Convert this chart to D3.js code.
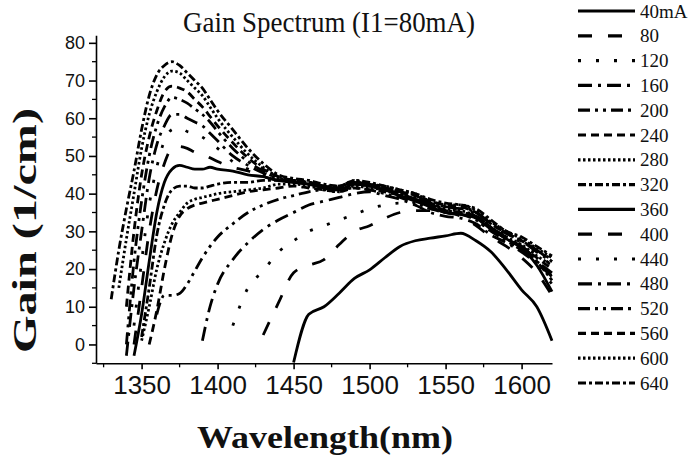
<!DOCTYPE html>
<html>
<head>
<meta charset="utf-8">
<script src="https://cdn.jsdelivr.net/npm/d3@7"></script>
<style>
  body { margin: 0; background: #fff; }
  #wrapper { width: 692px; height: 460px; }
</style>
</head>
<body>
<div id="wrapper"></div>
<script>
const N = null

// wavelength grid (nm)
const wavelengths = [1330, 1335, 1340, 1345, 1350, 1355, 1360, 1365, 1370, 1375, 1380, 1385, 1390, 1395, 1400,
    1410, 1420, 1430, 1440, 1450, 1460, 1470, 1480, 1490, 1500, 1510, 1520, 1530, 1540, 1550, 1560, 1570, 1580, 1590, 1600, 1610, 1620]

// injection currents I2 (legend)
const currents = ["40mA", "80", "120", "160", "200", "240", "280", "320", "360", "400", "440", "480", "520", "560", "600", "640"]

// gain (1/cm) per current, on the wavelength grid
const gain40 = [N, N, N, N, N, N, N, N, N, N, N, N, N, N, N, N, N, N, N, -4.8, 8, 10, 13.6, 17.5, 19.8, 23, 26, 27.5, 28.2, 28.8, 29.5, 27.5, 24.5, 19.8, 14.5, 10, 1]
const gain80 = [N, N, N, N, N, N, N, N, N, N, N, N, N, N, N, N, N, 2.5, 11, 19, 21, 22.5, 26.5, 30, 31.5, 33.5, 35, 35.5, 35.5, 35, 34, 31.5, 28.5, 26, 23, 19, 13]
const gain120 = [N, N, N, N, N, N, N, N, N, N, N, N, N, N, N, 5, 15, 19.5, 24.5, 27.5, 30, 31.5, 33, 34.5, 36, 37, 37.5, 37, 36, 35.5, 35, 33, 30, 27.5, 25, 21, 16]
const gain160 = [N, N, N, N, N, N, N, N, N, N, N, N, 1, 10, 16, 22.5, 27, 30.5, 33, 35, 37, 38, 39, 40, 40.5, 39.5, 38.5, 37, 35, 34, 33.5, 32, 29, 27, 24.5, 21.5, 18]
const gain200 = [N, N, N, N, N, N, 8, 13, 13, 13.5, 16, 19.5, 23, 26, 28.5, 32, 35, 37, 38.5, 39.5, 40.5, 41, 41, 41.5, 41, 40, 39, 37.5, 36, 35, 34.5, 33, 30, 27.5, 25, 22, 19]
const gain240 = [N, N, N, N, N, 0, 9, 20, 29, 34, 36, 37, 37.5, 38, 38.5, 39.5, 40.5, 41, 41.5, 42, 41.5, 41, 40.5, 41.5, 41, 40.5, 39.5, 38.5, 37, 35.5, 35, 34, 31, 28, 26, 23, 20]
const gain280 = [N, N, N, N, 1, 10, 20, 27, 32, 35, 37.5, 38.5, 39, 39.5, 40, 40.5, 41, 41.5, 42.5, 42.5, 42, 41, 40.5, 42, 41.5, 41, 40, 38.5, 37, 36, 35.5, 34, 31, 28.5, 26.5, 23.5, 21]
const gain320 = [N, N, N, N, 2, 15, 29, 37, 41, 42, 42, 41.5, 41.5, 42, 42.5, 43, 43, 43.5, 43.5, 43, 42.5, 41.5, 41, 42.5, 42, 41, 40, 38.5, 37, 35.5, 35, 34, 31, 28, 26, 22, 17]
const gain360 = [N, N, N, -3, 8, 22, 35, 43, 46.5, 47.5, 47, 46.5, 46.5, 47, 46.5, 46, 45, 44.5, 43.5, 43, 42.5, 41.5, 41, 42.5, 42, 41, 39.5, 38, 36.5, 35, 34.5, 33.5, 30.5, 28, 25.5, 21, 14]
const gain400 = [N, N, N, 0, 15, 30, 41, 48, 52, 52.5, 52, 51, 50.5, 49.5, 48.5, 47, 46, 44.5, 43.5, 43, 42.5, 41.5, 41.5, 42.5, 42, 41, 40, 38.5, 36.5, 35, 34.5, 34, 31, 28.5, 26, 22.5, 18]
const gain440 = [N, N, N, 5, 22, 37, 47, 54, 57, 57.5, 56.5, 56, 55, 53.5, 52, 48.5, 46.5, 45, 43.5, 43.5, 43, 42, 41.5, 43, 42.5, 41.5, 40.5, 39, 37.5, 36, 36, 34.5, 31.5, 29, 27, 24, 21]
const gain480 = [N, N, -3, 15, 30, 44, 53, 58, 61, 61, 60, 59, 58, 56, 54, 50, 47.5, 45.5, 44, 43.5, 43, 42, 42, 43, 42.5, 41.5, 40.5, 39, 37.5, 36.5, 36, 35, 32, 29.5, 27.5, 24.5, 22]
const gain520 = [N, N, 0, 22, 38, 50, 58, 63, 65.5, 65, 64, 62.5, 61, 59, 56.5, 52, 48.5, 46, 44, 43.5, 43, 42, 41.5, 43, 42.5, 41.5, 40.5, 39.5, 37.5, 36.5, 36.5, 35, 32, 29.5, 27.5, 25, 22.5]
const gain560 = [N, N, 10, 30, 45, 55, 62, 67, 68.5, 68, 67, 65, 63, 60.5, 58, 53.5, 49.5, 46.5, 44.5, 43.5, 43, 42, 41.5, 43, 42.5, 41.5, 40.5, 39.5, 38, 37, 36.5, 35, 32, 29.5, 27.5, 25, 22]
const gain600 = [N, 15, 28, 40, 52, 61, 67, 71, 72.5, 72, 70, 68, 66, 63, 60, 55, 50.5, 47, 44.5, 43.5, 43, 42, 42, 43.5, 42.5, 42, 41, 40, 38, 37, 37, 35.5, 32.5, 30, 28, 25.5, 23]
const gain640 = [12, 25, 36, 46, 57, 66, 71.5, 74, 75, 74, 72, 70, 68, 65, 62, 57, 52, 48, 45, 44, 43.5, 42.5, 42, 43.5, 43, 42, 41, 40, 38.5, 37.5, 37, 36, 33, 30, 28.5, 26, 23.5]

const gainSeries = [gain40, gain80, gain120, gain160, gain200, gain240, gain280, gain320,
    gain360, gain400, gain440, gain480, gain520, gain560, gain600, gain640]

const xTicks = [1350, 1400, 1450, 1500, 1550, 1600]
const yTicks = [0, 10, 20, 30, 40, 50, 60, 70, 80]

// Origin line style cycle: solid, dash, dot, dash dot, dash dot dot, short dash, short dot, short dash dot
const dashCycle = [null, "14,16", "3,15", "14,6,3,6", "12,5,3,5,3,5", "8,5", "2.5,2.5", "8,3,3,3"]

function drawChart() {
    d3.selectAll("svg").remove()
    const dimensions = createChartDimensions()
    const svg = drawCanvas(dimensions)
    const {xScale, yScale} = createScales(dimensions)
    drawData(xScale, yScale, svg)
    drawPeripherals(xScale, yScale, svg, dimensions)
    drawLegend(svg)
}

function createChartDimensions() {
    return {
        width: 692,
        height: 460,
        left: 96,
        right: 552,
        top: 35.3,
        bottom: 363.3,
    }
}

function drawCanvas(dimensions) {
    return d3.select("#wrapper")
        .append("svg")
        .attr("width", dimensions.width)
        .attr("height", dimensions.height)
}

function createScales(dimensions) {
    const xScale = d3.scaleLinear()
        .domain([1320, 1620])
        .range([dimensions.left, dimensions.right])
    const yScale = d3.scaleLinear()
        .domain([-5, 82])
        .range([dimensions.bottom, dimensions.top])
    return {xScale, yScale}
}

function drawData(xScale, yScale, svg) {
    const line = d3.line()
        .defined(d => d.g !== null)
        .x(d => xScale(d.wl))
        .y(d => yScale(d.g))
        .curve(d3.curveMonotoneX)

    svg.append("g")
        .selectAll("path")
        .data(gainSeries)
        .join("path")
        .attr("d", s => line(s.map((g, i) => ({wl: wavelengths[i], g}))))
        .attr("fill", "none")
        .attr("stroke", "#000")
        .attr("stroke-width", 2.8)
        .attr("stroke-dasharray", (s, i) => dashCycle[i % 8])
}

function drawPeripherals(xScale, yScale, svg, dimensions) {
    const xMinor = d3.range(1325, 1620, 50)
    const yMinor = d3.range(-5, 82, 10)

    const xAxis = svg.append("g")
        .attr("transform", `translate(0,${dimensions.bottom})`)
        .call(d3.axisBottom(xScale).tickValues(xTicks).tickFormat(d3.format("d")).tickSize(6).tickSizeOuter(0).tickPadding(6))
    xAxis.append("g").selectAll("line")
        .data(xMinor)
        .join("line")
        .attr("x1", d => xScale(d)).attr("x2", d => xScale(d))
        .attr("y1", 0).attr("y2", 4)
        .attr("stroke", "#000").attr("stroke-width", 1.3)
    xAxis.selectAll("text")
        .attr("font-family", "'Liberation Sans', Arial, sans-serif")
        .attr("font-size", 26)
        .attr("fill", "#111")

    const yAxis = svg.append("g")
        .attr("transform", `translate(${dimensions.left},0)`)
        .call(d3.axisLeft(yScale).tickValues(yTicks).tickSize(7).tickSizeOuter(0).tickPadding(4))
    yAxis.append("g").selectAll("line")
        .data(yMinor)
        .join("line")
        .attr("x1", 0).attr("x2", -4)
        .attr("y1", d => yScale(d)).attr("y2", d => yScale(d))
        .attr("stroke", "#000").attr("stroke-width", 1.3)
    yAxis.selectAll("text")
        .attr("font-family", "'Liberation Sans', Arial, sans-serif")
        .attr("font-size", 18)
        .attr("fill", "#111")

    svg.selectAll(".domain, .tick line").attr("stroke", "#000").attr("stroke-width", 1.6)

    svg.append("text")
        .text("Gain Spectrum (I1=80mA)")
        .attr("x", 183)
        .attr("y", 31.5)
        .attr("textLength", 292)
        .attr("lengthAdjust", "spacingAndGlyphs")
        .attr("font-family", "'Liberation Serif', 'Times New Roman', serif")
        .attr("font-size", 29)
        .attr("fill", "#111")

    svg.append("text")
        .text("Wavelength(nm)")
        .attr("x", 197)
        .attr("y", 448)
        .attr("textLength", 256)
        .attr("lengthAdjust", "spacingAndGlyphs")
        .attr("font-family", "'Liberation Serif', 'Times New Roman', serif")
        .attr("font-weight", "bold")
        .attr("font-size", 32)
        .attr("fill", "#111")

    svg.append("text")
        .text("Gain (1/cm)")
        .attr("transform", "translate(36,353) rotate(-90)")
        .attr("textLength", 245)
        .attr("lengthAdjust", "spacingAndGlyphs")
        .attr("font-family", "'Liberation Serif', 'Times New Roman', serif")
        .attr("font-weight", "bold")
        .attr("font-size", 33)
        .attr("fill", "#111")
}

function drawLegend(svg) {
    const legend = svg.append("g")
        .selectAll("g")
        .data(currents)
        .join("g")
        .attr("transform", (d, i) => `translate(578,${11 + i * 24.8})`)
    legend.append("line")
        .attr("x1", 0).attr("x2", 57)
        .attr("stroke", "#000")
        .attr("stroke-width", 3.2)
        .attr("stroke-dasharray", (d, i) => dashCycle[i % 8])
    legend.append("text")
        .text(d => d)
        .attr("x", 62)
        .attr("y", 6.5)
        .attr("font-family", "'Liberation Serif', 'Times New Roman', serif")
        .attr("font-size", 19)
        .attr("fill", "#111")
}

drawChart()
</script>
</body>
</html>
